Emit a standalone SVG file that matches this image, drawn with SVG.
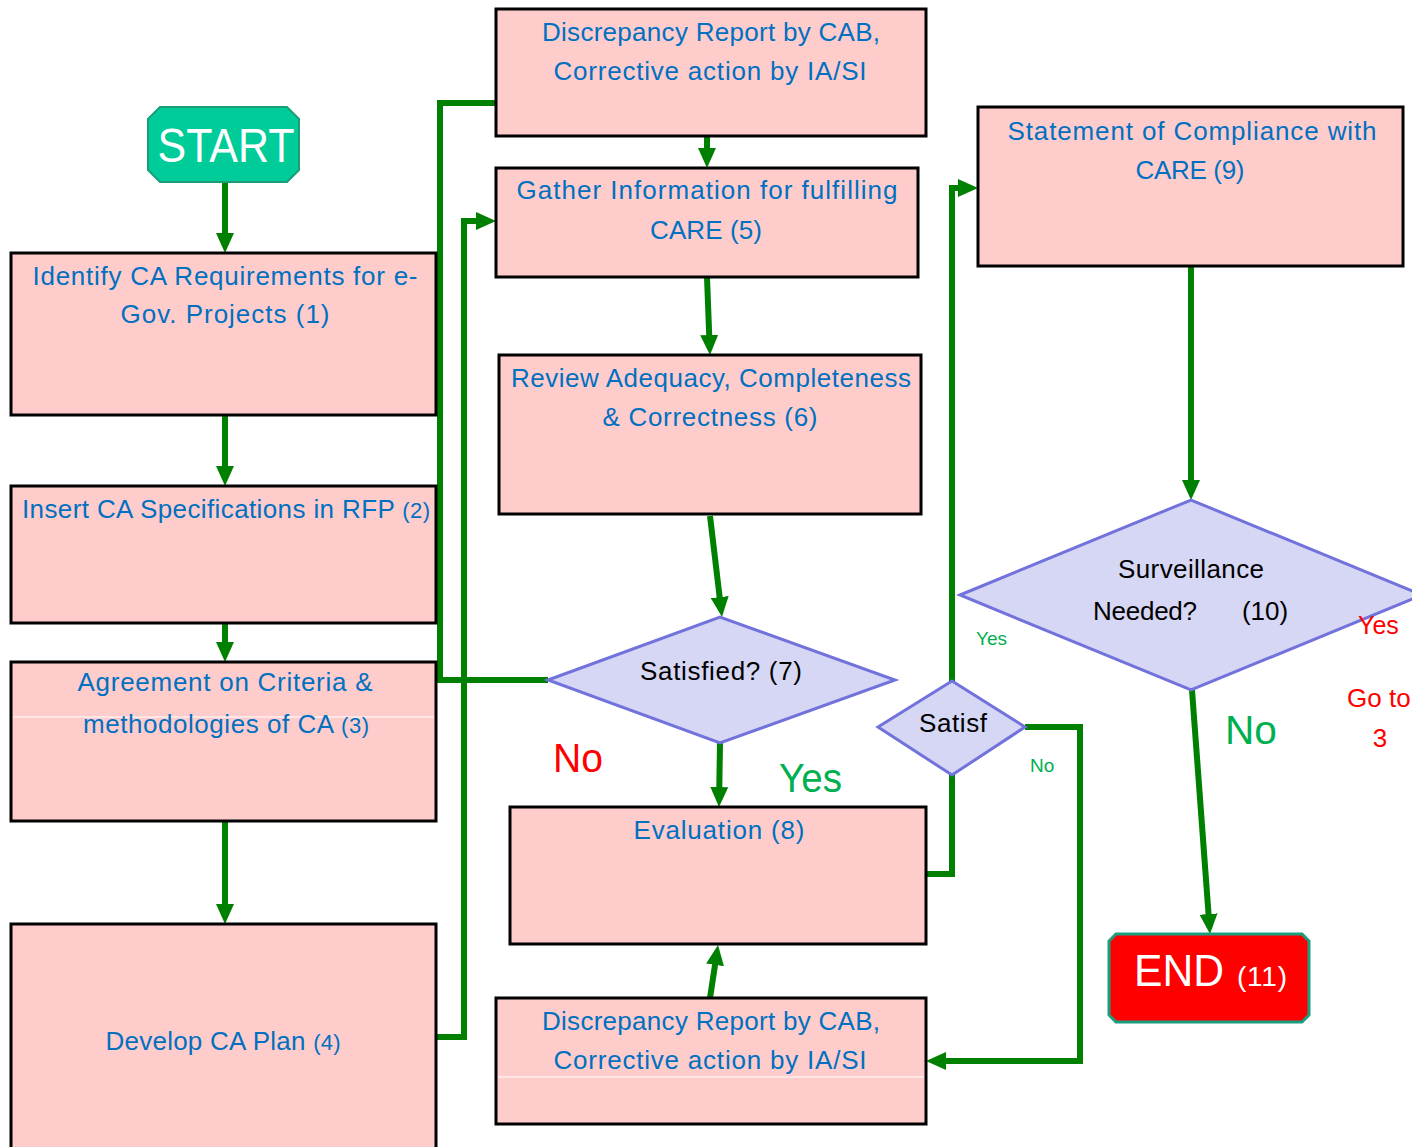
<svg xmlns="http://www.w3.org/2000/svg" width="1412" height="1147" viewBox="0 0 1412 1147">
<defs>
<marker id="ah" markerUnits="userSpaceOnUse" markerWidth="20" markerHeight="18" refX="13" refY="9" orient="auto" viewBox="0 0 20 18">
<path d="M0,0 L20,9 L0,18 z" fill="#008000"/>
</marker>
<style>
.box{fill:#FFCCCC;stroke:#000;stroke-width:3}
.dia{fill:#D6D6F5;stroke:#7272DD;stroke-width:3}
.t{font-family:"Liberation Sans",Arial,sans-serif;font-size:26px;fill:#0070C0;text-anchor:middle}
.k{font-family:"Liberation Sans",Arial,sans-serif;font-size:26px;fill:#000;text-anchor:middle}
.c{fill:none;stroke:#008000;stroke-width:6}
.a{marker-end:url(#ah)}
.lbl{font-family:"Liberation Sans",Arial,sans-serif}
.wl{stroke:#fff;stroke-width:1}
</style>
</defs>
<rect width="1412" height="1147" fill="#fff"/>
<g id="connectors">
<path class="c a" d="M225,182 V246"/>
<path class="c a" d="M225,413 V479"/>
<path class="c a" d="M225,623 V655"/>
<path class="c a" d="M225,821 V917"/>
<path class="c a" d="M707,136 V161"/>
<path class="c a" d="M707,277 L709.7,348"/>
<path class="c a" d="M710,516 L721.2,610"/>
<path class="c a" d="M720,743 L719.1,800"/>
<path class="c" d="M548,680 H440 V103 H496"/>
<path class="c a" d="M436,1037 H464 V221 H489"/>
<path class="c a" d="M926,874 H952 V188 H971"/>
<path class="c a" d="M1025,727 H1080 V1061 H933"/>
<path class="c a" d="M710,998 L717,952"/>
<path class="c a" d="M1191,266 V493"/>
<path class="c a" d="M1192,690 L1209.5,927"/>
</g>
<g id="start">
<path d="M160,107 H287 L299,119 V170 L287,182 H160 L148,170 V119 z" fill="#00CC99" stroke="#1A9E78" stroke-width="2"/>
<text class="lbl" x="226" y="162" font-size="48" fill="#fff" text-anchor="middle" textLength="137" lengthAdjust="spacingAndGlyphs">START</text>
</g>
<g id="n1">
<rect class="box" x="11" y="253" width="425" height="162"/>
<text class="t" x="225" y="285" textLength="385" lengthAdjust="spacing">Identify CA Requirements for e-</text>
<text class="t" x="225" y="323" textLength="209" lengthAdjust="spacing">Gov. Projects (1)</text>
</g>
<g id="n2">
<rect class="box" x="11" y="486" width="425" height="137"/>
<text class="t" x="226" y="518" textLength="408" lengthAdjust="spacing">Insert CA Specifications in RFP <tspan font-size="22">(2)</tspan></text>
</g>
<g id="n3">
<rect class="box" x="11" y="662" width="425" height="159"/>
<line class="wl" x1="13" y1="717" x2="434" y2="717"/>
<text class="t" x="225" y="691" textLength="295" lengthAdjust="spacing">Agreement on Criteria &amp;</text>
<text class="t" x="226" y="733" textLength="286" lengthAdjust="spacing">methodologies of CA <tspan font-size="22">(3)</tspan></text>
</g>
<g id="n4">
<rect class="box" x="11" y="924" width="425" height="230"/>
<text class="t" x="223" y="1050" textLength="235" lengthAdjust="spacing">Develop CA Plan <tspan font-size="22">(4)</tspan></text>
</g>
<g id="dr-top">
<rect class="box" x="496" y="9" width="430" height="127"/>
<text class="t" x="711" y="41" textLength="338" lengthAdjust="spacing">Discrepancy Report by CAB,</text>
<text class="t" x="710" y="80" textLength="313" lengthAdjust="spacing">Corrective action by IA/SI</text>
</g>
<g id="n5">
<rect class="box" x="496" y="168" width="422" height="109"/>
<text class="t" x="707" y="199" textLength="381" lengthAdjust="spacing">Gather Information for fulfilling</text>
<text class="t" x="706" y="239" textLength="112" lengthAdjust="spacing">CARE (5)</text>
</g>
<g id="n6">
<rect class="box" x="499" y="355" width="422" height="159"/>
<text class="t" x="711" y="387" textLength="400" lengthAdjust="spacing">Review Adequacy, Completeness</text>
<text class="t" x="710" y="426" textLength="215" lengthAdjust="spacing">&amp; Correctness (6)</text>
</g>
<g id="n7">
<path class="dia" d="M548,680 L720,617 L895,680 L720,743 z"/>
<text class="k" x="721" y="680" font-size="24" textLength="162" lengthAdjust="spacing">Satisfied? (7)</text>
</g>
<g id="n8">
<rect class="box" x="510" y="807" width="416" height="137"/>
<text class="t" x="719" y="839" textLength="171" lengthAdjust="spacing">Evaluation (8)</text>
</g>
<g id="dr-bottom">
<rect class="box" x="496" y="998" width="430" height="126"/>
<line class="wl" x1="498" y1="1077" x2="924" y2="1077"/>
<text class="t" x="711" y="1030" textLength="338" lengthAdjust="spacing">Discrepancy Report by CAB,</text>
<text class="t" x="710" y="1069" textLength="313" lengthAdjust="spacing">Corrective action by IA/SI</text>
</g>
<g id="n9">
<rect class="box" x="978" y="107" width="425" height="159"/>
<text class="t" x="1192" y="140" textLength="369" lengthAdjust="spacing">Statement of Compliance with</text>
<text class="t" x="1190" y="179" textLength="109" lengthAdjust="spacing">CARE (9)</text>
</g>
<g id="satisf">
<path class="dia" d="M878,727 L952,681 L1025,727 L952,775 z"/>
<text class="k" x="953" y="732" textLength="68" lengthAdjust="spacing">Satisf</text>
</g>
<g id="n10">
<path class="dia" d="M960,595 L1191,500 L1422,595 L1191,690 z"/>
<text class="k" x="1191" y="578" textLength="146" lengthAdjust="spacing">Surveillance</text>
<text class="k" x="1093" y="620" style="text-anchor:start" textLength="104" lengthAdjust="spacing">Needed?</text>
<text class="k" x="1265" y="620">(10)</text>
</g>
<g id="end">
<path d="M1116,934 H1302 L1309,941 V1015 L1302,1022 H1116 L1109,1015 V941 z" fill="#FF0000" stroke="#1A9E80" stroke-width="3"/>
<text class="lbl" x="1134" y="986" font-size="44" fill="#fff" textLength="90" lengthAdjust="spacingAndGlyphs">END</text>
<text class="lbl" x="1237" y="986" font-size="28" fill="#fff" textLength="50" lengthAdjust="spacing">(11)</text>
</g>
<g id="labels">
<text class="lbl" x="553" y="772" font-size="40" fill="#FF0000" textLength="50" lengthAdjust="spacingAndGlyphs">No</text>
<text class="lbl" x="779" y="792" font-size="40" fill="#00B050" textLength="63" lengthAdjust="spacingAndGlyphs">Yes</text>
<text class="lbl" x="976" y="645" font-size="19" fill="#00B050">Yes</text>
<text class="lbl" x="1030" y="772" font-size="19" fill="#00B050">No</text>
<text class="lbl" x="1358" y="634" font-size="25" fill="#FF0000">Yes</text>
<text class="lbl" x="1347" y="707" font-size="26" fill="#FF0000">Go to</text>
<text class="lbl" x="1380" y="747" font-size="26" fill="#FF0000" text-anchor="middle">3</text>
<text class="lbl" x="1225" y="744" font-size="40" fill="#00B050" textLength="52" lengthAdjust="spacingAndGlyphs">No</text>
</g>
</svg>
